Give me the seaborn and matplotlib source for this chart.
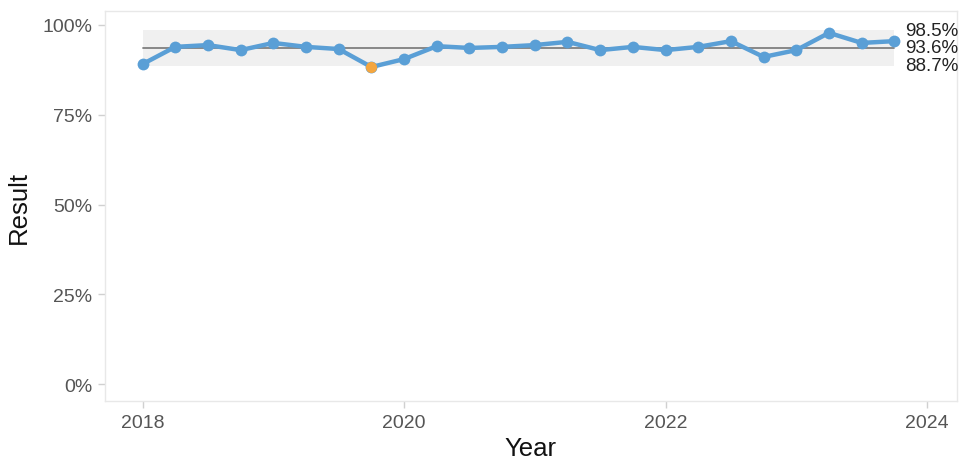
import numpy as np
import pandas as pd
import matplotlib
matplotlib.use('Agg')
import matplotlib.pyplot as plt
import matplotlib.ticker as mticker
import seaborn as sns

# Quarterly results (in %)
years = [2018.0, 2018.25, 2018.5, 2018.75,
         2019.0, 2019.25, 2019.5, 2019.75,
         2020.0, 2020.25, 2020.5, 2020.75,
         2021.0, 2021.25, 2021.5, 2021.75,
         2022.0, 2022.25, 2022.5, 2022.75,
         2023.0, 2023.25, 2023.5, 2023.75]
results = [89.1, 93.9, 94.4, 93.0,
           95.0, 93.9, 93.3, 88.3,
           90.5, 94.1, 93.6, 93.9,
           94.4, 95.3, 93.0, 93.9,
           93.0, 93.9, 95.5, 91.1,
           93.0, 97.8, 95.0, 95.5]
flagged = [False] * 7 + [True] + [False] * 16

mean_value = 93.6
upper_limit = 98.5
lower_limit = 88.7

y_ticks = [0, 25, 50, 75, 100]
x_ticks = [2018, 2020, 2022, 2024]

BLUE = '#5a9fd6'
ORANGE = '#f4a640'
DPI = 100

df = pd.DataFrame({'Year': years, 'Result': results, 'Flag': flagged})

sns.set_style('white')
plt.rcParams['font.family'] = ['Liberation Sans', 'DejaVu Sans']

fig = plt.figure(figsize=(960 / DPI, 460 / DPI), dpi=DPI)
ax = fig.add_axes([0.109, 0.126, 0.888, 0.848])

# control band and centre line
ax.fill_between(df['Year'], lower_limit, upper_limit, color='#f0f0f0', linewidth=0, zorder=1)
ax.plot([df['Year'].min(), df['Year'].max()], [mean_value, mean_value],
        color='#808080', linewidth=1.3, zorder=2)

sns.lineplot(data=df, x='Year', y='Result', color=BLUE, linewidth=3.2,
             marker='o', markersize=8.5, markeredgewidth=0, ax=ax, zorder=3)
sns.scatterplot(data=df[df['Flag']], x='Year', y='Result', color=ORANGE,
                s=65, linewidth=0, ax=ax, zorder=4)

x_txt = df['Year'].max() + 0.08
for val in [upper_limit, mean_value, lower_limit]:
    ax.text(x_txt, val, f'{val:.1f}%', fontsize=13.5, color='#222222',
            va='center', ha='left', zorder=5)

ax.set_xlim(2017.71, 2024.23)
ax.set_ylim(-4.7, 103.9)
ax.set_xticks(x_ticks)
ax.set_yticks(y_ticks)
ax.yaxis.set_major_formatter(mticker.FuncFormatter(lambda v, _: f'{v:.0f}%'))

ax.tick_params(axis='both', which='major', length=5, width=1, color='#d0d0d0',
               labelcolor='#555555', labelsize=14, pad=4, left=True, bottom=True)
ax.set_xlabel('Year', fontsize=18.5, color='#111111', labelpad=4)
ax.set_ylabel('Result', fontsize=18.5, color='#111111', labelpad=8)

for side in ['top', 'right', 'bottom', 'left']:
    ax.spines[side].set_visible(True)
    ax.spines[side].set_color('#e8e8e8')
    ax.spines[side].set_linewidth(1)

fig.savefig('out.png', dpi=DPI)
plt.close(fig)
